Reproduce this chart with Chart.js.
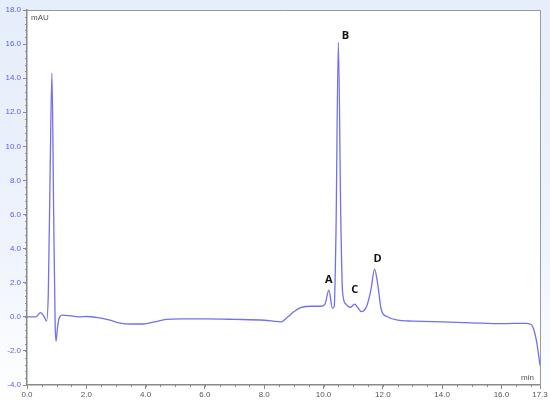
<!DOCTYPE html>
<html>
<head>
<meta charset="utf-8">
<script src="https://cdn.jsdelivr.net/npm/chart.js@4.4.1/dist/chart.umd.min.js"></script>
<style>
  html, body { margin: 0; padding: 0; background: #fff; }
  #wrap { position: relative; width: 550px; height: 403px; }
</style>
</head>
<body>
<div id="wrap"><canvas id="chrom"></canvas></div>
<script>
// retention time (min) and detector signal (mAU)
const times = [0, 0.3, 0.46, 0.58, 0.66, 0.72, 0.78, 0.84, 0.9, 0.95, 0.98, 1.03, 1.1, 1.2, 1.5, 1.8, 2.0,
  2.4, 2.8, 3.1, 3.5, 3.9, 4.3, 4.7, 5.2, 6.0, 7.0, 8.0, 8.3, 8.55, 8.8, 9.0, 9.25, 9.6, 9.9, 10.05,
  10.18, 10.3, 10.36, 10.42, 10.5, 10.58, 10.64, 10.75, 10.9, 11.05, 11.15, 11.28, 11.45, 11.6, 11.72,
  11.82, 11.95, 12.15, 12.5, 13.0, 14.0, 15.0, 16.0, 16.8, 17.0, 17.1, 17.2, 17.3];
const signal = [0.0, 0.0, 0.25, 0.0, -0.25, 1.5, 8.5, 14.3, 6.0, -0.5, -1.43, -0.6, 0.0, 0.1, 0.05, 0.0, 0.02,
  -0.05, -0.2, -0.35, -0.42, -0.42, -0.3, -0.15, -0.12, -0.12, -0.15, -0.2, -0.25, -0.3, 0.0, 0.3, 0.55,
  0.62, 0.62, 0.75, 1.57, 0.5, 0.6, 5.0, 16.1, 6.0, 1.5, 0.75, 0.55, 0.75, 0.55, 0.3, 0.6, 1.6, 2.8,
  2.0, 0.4, 0.0, -0.2, -0.25, -0.3, -0.35, -0.4, -0.38, -0.45, -0.8, -1.6, -2.85];

// labelled peaks
const peakNames = ['A', 'B', 'C', 'D'];
const peakTimes = [10.18, 10.5, 11.05, 11.72];
const peakHeights = [1.57, 16.1, 0.75, 2.8];

const xTicks = [0, 2, 4, 6, 8, 10, 12, 14, 16, 17.3];
const yMin = -4, yMax = 18;

const lineColor = '#7070f0';
const axisColor = '#8a8a8a';

const points = times.map((t, i) => ({ x: t, y: signal[i] }));

// background, frame, minor ticks, axis units and peak letters
const decor = {
  id: 'decor',
  beforeDraw(chart) {
    const c = chart.ctx, a = chart.chartArea;
    c.save();
    const g = c.createLinearGradient(0, 0, 0, chart.height);
    g.addColorStop(0, '#e6eefb');
    g.addColorStop(0.6, '#eef3fc');
    g.addColorStop(1, '#ffffff');
    c.fillStyle = g;
    c.fillRect(0, 0, chart.width, chart.height);
    c.fillStyle = '#ffffff';
    c.fillRect(a.left, a.top, a.right - a.left, chart.height - a.top);
    c.restore();
  },
  afterDraw(chart) {
    const c = chart.ctx, a = chart.chartArea;
    const xs = chart.scales.x, ys = chart.scales.y;
    c.save();
    // top and right frame
    c.strokeStyle = '#9a9a9a';
    c.lineWidth = 1;
    c.beginPath();
    c.moveTo(a.left, a.top + 0.5);
    c.lineTo(a.right + 0.5, a.top + 0.5);
    c.lineTo(a.right + 0.5, a.bottom);
    c.stroke();
    // minor ticks
    c.strokeStyle = axisColor;
    c.beginPath();
    for (let v = yMin; v <= yMax + 0.001; v += 0.4) {
      const py = Math.round(ys.getPixelForValue(v)) + 0.5;
      c.moveTo(a.left - 2, py);
      c.lineTo(a.left, py);
    }
    for (let v = 0.5; v < 17.3; v += 0.5) {
      const px = Math.round(xs.getPixelForValue(v)) + 0.5;
      c.moveTo(px, a.bottom);
      c.lineTo(px, a.bottom + 2);
    }
    c.stroke();
    // units
    c.fillStyle = '#555';
    c.font = '8px "Liberation Sans", Arial, sans-serif';
    c.textBaseline = 'top';
    c.textAlign = 'left';
    c.fillText('mAU', a.left + 4, a.top + 4);
    c.textAlign = 'right';
    c.textBaseline = 'bottom';
    c.fillText('min', a.right - 6, a.bottom - 3);
    // peak letters
    c.fillStyle = '#111';
    c.font = 'bold 11px "Open Sans", "Liberation Sans", sans-serif';
    c.textAlign = 'center';
    c.textBaseline = 'bottom';
    const offs = [[0, -5], [7, -1], [0, -9], [3, -5]];
    peakNames.forEach((n, i) => {
      const px = xs.getPixelForValue(peakTimes[i]);
      const py = ys.getPixelForValue(peakHeights[i]);
      c.fillText(n, px + offs[i][0], py + offs[i][1]);
    });
    c.restore();
  }
};

new Chart(document.getElementById('chrom').getContext('2d'), {
  type: 'line',
  data: {
    datasets: [{
      data: points,
      borderColor: lineColor,
      borderWidth: 1.3,
      pointRadius: 0,
      fill: false,
      cubicInterpolationMode: 'monotone'
    }]
  },
  options: {
    responsive: true,
    maintainAspectRatio: false,
    animation: false,
    events: [],
    layout: { padding: { left: 0, right: 10, top: 10, bottom: 0 } },
    plugins: { legend: { display: false }, tooltip: { enabled: false } },
    scales: {
      x: {
        type: 'linear',
        min: 0,
        max: 17.3,
        afterBuildTicks: s => { s.ticks = xTicks.map(v => ({ value: v })); },
        afterFit: s => { s.height = 18; },
        border: { color: axisColor, width: 1.5 },
        grid: { drawOnChartArea: false, tickLength: 4, color: axisColor },
        ticks: {
          autoSkip: false,
          maxRotation: 0,
          padding: 1,
          color: '#555',
          font: { size: 8, family: '"Liberation Sans", Arial, sans-serif' },
          callback: v => v.toFixed(1)
        }
      },
      y: {
        min: yMin,
        max: yMax,
        afterFit: s => { s.width = 27; },
        border: { color: axisColor, width: 1.5 },
        grid: { drawOnChartArea: false, tickLength: 4, color: axisColor },
        ticks: {
          stepSize: 2,
          padding: 2,
          color: '#5a5af0',
          font: { size: 8, family: '"Liberation Sans", Arial, sans-serif' },
          callback: v => v.toFixed(1)
        }
      }
    }
  },
  plugins: [decor]
});
</script>
</body>
</html>
